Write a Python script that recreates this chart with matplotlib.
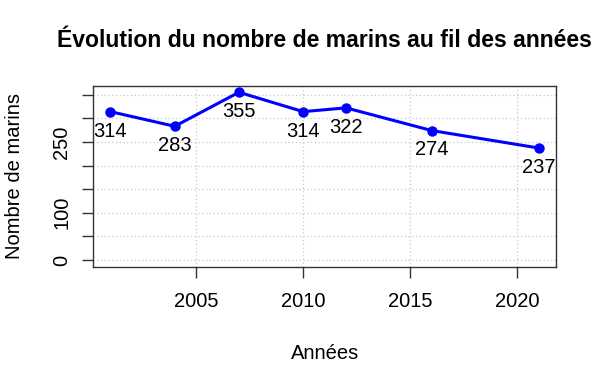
import matplotlib
matplotlib.use("Agg")
import matplotlib.pyplot as plt

plt.rcParams['font.family'] = ['Liberation Sans', 'DejaVu Sans']

annees = [2001, 2004, 2007, 2010, 2012, 2016, 2021]
marins = [314, 283, 355, 314, 322, 274, 237]
x_ticks = [2005, 2010, 2015, 2020]
y_ticks = [0, 50, 100, 150, 200, 250, 300, 350]
y_tick_labels = ['0', '', '100', '', '', '250', '', '']

FS = 14.5

fig = plt.figure(figsize=(6.0, 3.72), dpi=100)
ax = fig.add_axes([0.1555, 0.283, 0.771, 0.487])

ax.plot(annees, marins, color='#0000FF', lw=2.2, marker='o', ms=6.5, zorder=3)
for xv, yv in zip(annees, marins):
    ax.annotate(str(yv), (xv, yv), xytext=(0, -14), textcoords='offset points',
                ha='center', va='center', fontsize=FS, color='black')

rng = max(annees) - min(annees)
ax.set_xlim(min(annees) - 0.04 * rng, max(annees) + 0.04 * rng)
ax.set_ylim(-0.04 * max(marins), max(marins) * 1.04)

ax.set_xticks(x_ticks)
ax.set_xticklabels([str(t) for t in x_ticks])
ax.set_yticks(y_ticks)
ax.set_yticklabels(y_tick_labels, rotation=90, va='center')

ax.grid(True, color='#c8c8c8', linestyle=(0, (1, 2)), lw=0.9)
ax.set_axisbelow(True)

for s in ax.spines.values():
    s.set_color('#333333')
    s.set_linewidth(1.0)
ax.tick_params(direction='out', length=8, width=1.0, color='#333333',
               labelsize=FS, pad=10)
ax.tick_params(axis='y', pad=8)

ax.set_xlabel('Années', fontsize=FS, labelpad=24)
ax.set_ylabel('Nombre de marins', fontsize=FS, labelpad=20)
ax.set_title('Évolution du nombre de marins au fil des années',
             fontsize=16.6, fontweight='bold', pad=28)

fig.savefig('out.png', dpi=100)
